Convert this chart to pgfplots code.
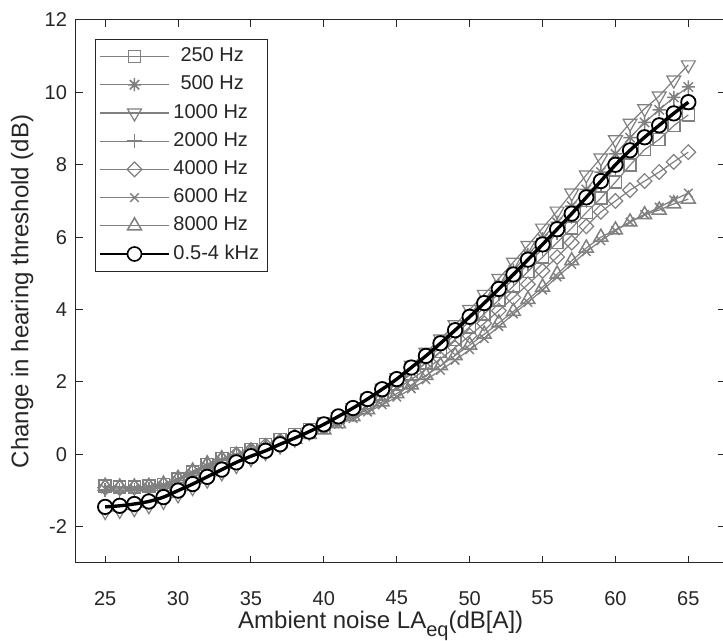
\documentclass[border=0pt]{standalone}
\usepackage{pgfplots}
\pgfplotsset{compat=1.18}
\usepackage{pgfplotstable}
\usepackage{fontspec}
\setmainfont{Liberation Sans}
\definecolor{axgray}{RGB}{38,38,38}
\definecolor{sgray}{RGB}{128,128,128}
\pgfdeclareplotmark{star8}{%
  \pgfpathmoveto{\pgfqpoint{-\pgfplotmarksize}{0pt}}\pgfpathlineto{\pgfqpoint{\pgfplotmarksize}{0pt}}%
  \pgfpathmoveto{\pgfqpoint{0pt}{-\pgfplotmarksize}}\pgfpathlineto{\pgfqpoint{0pt}{\pgfplotmarksize}}%
  \pgfpathmoveto{\pgfqpoint{-.7071\pgfplotmarksize}{-.7071\pgfplotmarksize}}\pgfpathlineto{\pgfqpoint{.7071\pgfplotmarksize}{.7071\pgfplotmarksize}}%
  \pgfpathmoveto{\pgfqpoint{-.7071\pgfplotmarksize}{.7071\pgfplotmarksize}}\pgfpathlineto{\pgfqpoint{.7071\pgfplotmarksize}{-.7071\pgfplotmarksize}}%
  \pgfusepathqstroke}
\pgfplotstableread{
x s250 s500 s1000 s2000 s4000 s6000 s8000 b
25 -0.88 -1.50 -1.58 -0.98 -0.92 -0.95 -0.88 -1.45
26 -0.90 -1.47 -1.55 -1.00 -0.93 -0.96 -0.90 -1.42
27 -0.90 -1.42 -1.50 -0.98 -0.92 -0.94 -0.90 -1.37
28 -0.88 -1.35 -1.42 -0.95 -0.90 -0.92 -0.88 -1.30
29 -0.83 -1.22 -1.30 -0.88 -0.84 -0.86 -0.82 -1.18
30 -0.68 -1.05 -1.12 -0.72 -0.70 -0.72 -0.66 -1.00
31 -0.48 -0.86 -0.92 -0.52 -0.50 -0.53 -0.46 -0.82
32 -0.28 -0.66 -0.71 -0.32 -0.30 -0.34 -0.26 -0.62
33 -0.12 -0.46 -0.51 -0.16 -0.14 -0.18 -0.12 -0.42
34 0.02 -0.26 -0.31 -0.02 0.00 -0.05 -0.02 -0.22
35 0.14 -0.08 -0.12 0.10 0.12 0.06 0.08 -0.05
36 0.27 0.08 0.05 0.22 0.24 0.18 0.18 0.10
37 0.41 0.26 0.23 0.36 0.37 0.30 0.30 0.28
38 0.55 0.44 0.42 0.50 0.50 0.42 0.42 0.45
39 0.69 0.63 0.61 0.65 0.63 0.55 0.55 0.63
40 0.84 0.82 0.80 0.80 0.77 0.68 0.68 0.83
41 1.02 1.04 1.04 1.00 0.94 0.83 0.85 1.05
42 1.22 1.27 1.29 1.22 1.12 0.99 1.04 1.28
43 1.44 1.52 1.56 1.46 1.32 1.17 1.24 1.53
44 1.67 1.79 1.83 1.72 1.55 1.37 1.45 1.80
45 1.94 2.08 2.12 2.00 1.80 1.58 1.68 2.08
46 2.22 2.40 2.46 2.30 2.07 1.81 1.92 2.40
47 2.52 2.74 2.82 2.62 2.35 2.06 2.18 2.72
48 2.84 3.10 3.19 2.96 2.64 2.32 2.45 3.07
49 3.17 3.47 3.58 3.31 2.95 2.60 2.73 3.43
50 3.52 3.86 4.00 3.68 3.28 2.89 3.02 3.80
51 3.88 4.26 4.42 4.06 3.62 3.20 3.32 4.18
52 4.26 4.67 4.86 4.45 3.97 3.53 3.63 4.57
53 4.65 5.09 5.31 4.85 4.33 3.88 3.95 4.97
54 5.05 5.52 5.77 5.26 4.70 4.20 4.28 5.38
55 5.45 5.96 6.25 5.68 5.07 4.54 4.62 5.80
56 5.85 6.41 6.72 6.11 5.45 4.90 4.98 6.22
57 6.25 6.86 7.22 6.55 5.85 5.25 5.35 6.65
58 6.68 7.32 7.72 7.00 6.30 5.60 5.70 7.10
59 7.08 7.80 8.19 7.45 6.70 5.90 6.00 7.55
60 7.52 8.30 8.69 7.92 7.00 6.18 6.20 8.00
61 7.99 8.75 9.15 8.35 7.30 6.42 6.42 8.40
62 8.42 9.17 9.55 8.75 7.55 6.63 6.62 8.76
63 8.70 9.52 9.90 9.12 7.80 6.83 6.75 9.09
64 9.08 9.86 10.34 9.48 8.08 7.03 6.92 9.42
65 9.38 10.15 10.76 9.82 8.35 7.22 7.05 9.73
}\datatable
\begin{document}
\begin{tikzpicture}
\begin{axis}[
  name=ax,
  scale only axis,
  width=324.4pt, height=271.5pt,
  xmin=23, xmax=67.5, ymin=-3, ymax=12,
  xtick={25,30,...,65}, ytick={-2,0,...,12},
  tick align=inside,
  major tick length=3.5pt,
  clip marker paths=true,
  axis line style={axgray, line width=0.5pt},
  every tick/.style={axgray, line width=0.5pt},
  /pgf/number format/assume math mode=true,
  ticklabel style={font=\fontsize{10}{12}\selectfont, text=axgray},
  xticklabel style={yshift=-10.5pt},
  yticklabel style={xshift=-1pt},
  xlabel={Ambient noise LA\raisebox{-4pt}{\fontsize{10}{12}\selectfont eq}(dB[A])},
  ylabel={Change in hearing threshold (dB)},
  label style={font=\fontsize{12}{14}\selectfont, text=axgray},
  xlabel style={at={(axis cs:43.9,-3)}, anchor=center, yshift=-31.5pt},
  ylabel style={at={(axis description cs:-0.083,0.5)}, anchor=center},
  legend cell align=left,
  legend style={at={(rel axis cs:0,1)}, anchor=north west, xshift=9.5pt, yshift=-9.5pt,
    draw=axgray, line width=0.5pt, font=\fontsize{10}{12}\selectfont, text=axgray,
    inner xsep=2pt, inner ysep=1.5pt, row sep=0pt,
    nodes={text height=7.6pt, text depth=2.5pt, inner ysep=2pt, inner xsep=2pt}},
  legend image code/.code={\draw[mark repeat=2,mark phase=2,#1] plot coordinates {(0pt,0pt) (17pt,0pt) (34pt,0pt)};},
  every axis plot/.append style={sgray, line width=0.6pt, mark options={solid, line width=0.75pt, fill=none}},
]
\addplot[sgray, mark=square, mark size=3pt] table[x=x,y=s250]{\datatable};
\addlegendentry{\hspace{3.5pt}250 Hz}
\addplot[sgray, mark=star8, mark size=3.3pt] table[x=x,y=s500]{\datatable};
\addlegendentry{\hspace{3.5pt}500 Hz}
\addplot[sgray, mark=triangle, mark size=4pt, mark options={rotate=180}] table[x=x,y=s1000]{\datatable};
\addlegendentry{1000 Hz}
\addplot[sgray, mark=+, mark size=3.6pt] table[x=x,y=s2000]{\datatable};
\addlegendentry{2000 Hz}
\addplot[sgray, mark=square, mark size=2.6pt, mark options={rotate=45}] table[x=x,y=s4000]{\datatable};
\addlegendentry{4000 Hz}
\addplot[sgray, mark=x, mark size=3pt] table[x=x,y=s6000]{\datatable};
\addlegendentry{6000 Hz}
\addplot[sgray, mark=triangle, mark size=4pt] table[x=x,y=s8000]{\datatable};
\addlegendentry{8000 Hz}
\addplot[black, only marks, mark=*, mark size=3.6pt, mark options={fill=white, draw=black, line width=0.9pt},
  legend image code/.code={\draw[black, line width=1pt] (0pt,0pt) -- (34pt,0pt);
    \draw[black, fill=white, line width=0.8pt] (17pt,0pt) circle (3.5pt);}]
  table[x=x,y=b]{\datatable};
\addlegendentry{0.5-4 kHz}
\addplot[black, line width=1.7pt, smooth, no marks, forget plot] table[x=x,y=b]{\datatable};
\end{axis}
\path (ax.south west) ++(-38pt,-39pt) coordinate (bl);
\pgfresetboundingbox
\useasboundingbox (bl) rectangle ++(361.5pt,320.5pt);
\end{tikzpicture}
\end{document}
